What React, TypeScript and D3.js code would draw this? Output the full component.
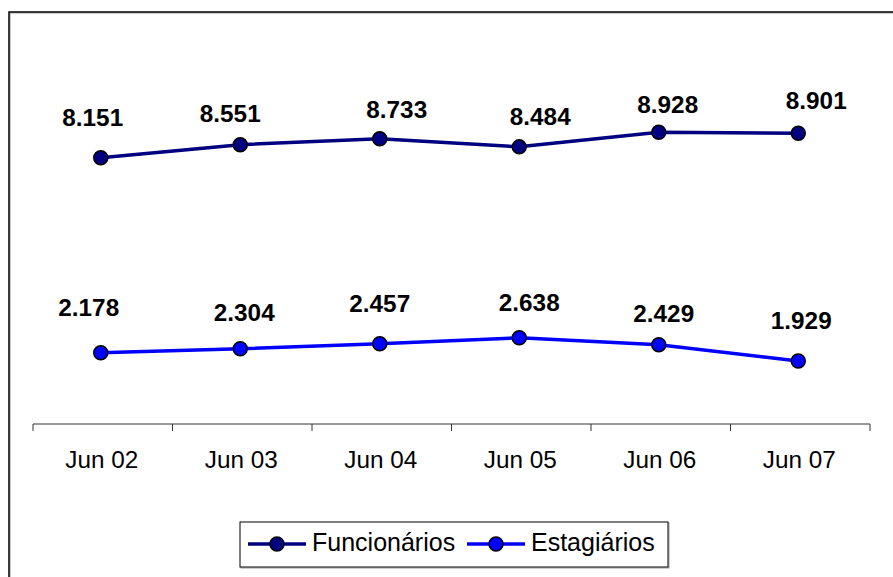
import React from "react";
import * as d3 from "d3";

const categories = ["Jun 02", "Jun 03", "Jun 04", "Jun 05", "Jun 06", "Jun 07"];
const funcionarios = [8.151, 8.551, 8.733, 8.484, 8.928, 8.901];
const estagiarios = [2.178, 2.304, 2.457, 2.638, 2.429, 1.929];
const seriesNames = ["Funcionários", "Estagiários"];
const yDomain = [0, 12];

// label placement offsets (layout, not data)
const funcLabelOffsets = [
  [-8, -32], [-10, -23], [17, -21], [21, -22], [9, -19], [18, -24],
];
const estLabelOffsets = [
  [-12, -37], [4, -28], [0, -32], [10, -27], [5, -23], [3, -32],
];

const W = 893;
const H = 577;

export default function App() {
  const x = d3.scaleBand<string>().domain(categories).range([33, 870]);
  const y = d3.scaleLinear().domain(yDomain).range([424, 32]);
  const cx = (c: string) => (x(c) as number) + x.bandwidth() / 2 - 2;

  const series = [
    { name: seriesNames[0], values: funcionarios, color: "#000080", offsets: funcLabelOffsets },
    { name: seriesNames[1], values: estagiarios, color: "#0000FF", offsets: estLabelOffsets },
  ];

  const line = d3
    .line<number>()
    .x((_, i) => cx(categories[i]))
    .y((v) => y(v));

  const fmt = (v: number) => v.toFixed(3);
  const tickXs = [...categories.map((c) => x(c) as number), 870];
  const font = "'Liberation Sans', Arial, sans-serif";

  return (
    <svg
      width={W}
      height={H}
      style={{ position: "absolute", left: 0, top: 0, background: "#fff" }}
      fontFamily={font}
    >
      <rect x={0} y={0} width={W} height={H} fill="#fff" />
      {/* outer frame */}
      <rect x={10} y={13} width={W} height={H} fill="none" stroke="#999" strokeWidth={1} />
      <rect x={9} y={12} width={W} height={H} fill="none" stroke="#000" strokeWidth={1.5} />

      {/* x axis */}
      <line x1={33} x2={870} y1={424} y2={424} stroke="#333" strokeWidth={1} />
      {tickXs.map((t, i) => (
        <line key={i} x1={t} x2={t} y1={424} y2={431} stroke="#333" strokeWidth={1} />
      ))}
      {categories.map((c) => (
        <text key={c} x={cx(c) + 1} y={468} textAnchor="middle" fontSize={24.3} fill="#000">
          {c}
        </text>
      ))}

      {/* series */}
      {series.map((s) => (
        <g key={s.name}>
          <path d={line(s.values) || ""} fill="none" stroke={s.color} strokeWidth={3.5} />
          {s.values.map((v, i) => (
            <circle
              key={i}
              cx={cx(categories[i])}
              cy={y(v)}
              r={7}
              fill={s.color}
              stroke="#000"
              strokeWidth={1.5}
            />
          ))}
          {s.values.map((v, i) => (
            <text
              key={"l" + i}
              x={cx(categories[i]) + s.offsets[i][0]}
              y={y(v) + s.offsets[i][1]}
              textAnchor="middle"
              fontSize={24.3}
              fontWeight="bold"
              fill="#000"
            >
              {fmt(v)}
            </text>
          ))}
        </g>
      ))}

      {/* legend */}
      <rect x={241} y={523} width={428} height={45} fill="none" stroke="#999" strokeWidth={1} />
      <rect x={240} y={522} width={428} height={45} fill="#fff" stroke="#000" strokeWidth={1} />
      {series.map((s, i) => {
        const x0 = i === 0 ? 248 : 467;
        return (
          <g key={s.name}>
            <line x1={x0} x2={x0 + 58} y1={544} y2={544} stroke={s.color} strokeWidth={3.5} />
            <circle cx={x0 + 29} cy={544} r={7} fill={s.color} stroke="#000" strokeWidth={1.5} />
            <text x={x0 + 64} y={551} fontSize={25} fill="#000">
              {s.name}
            </text>
          </g>
        );
      })}
    </svg>
  );
}
